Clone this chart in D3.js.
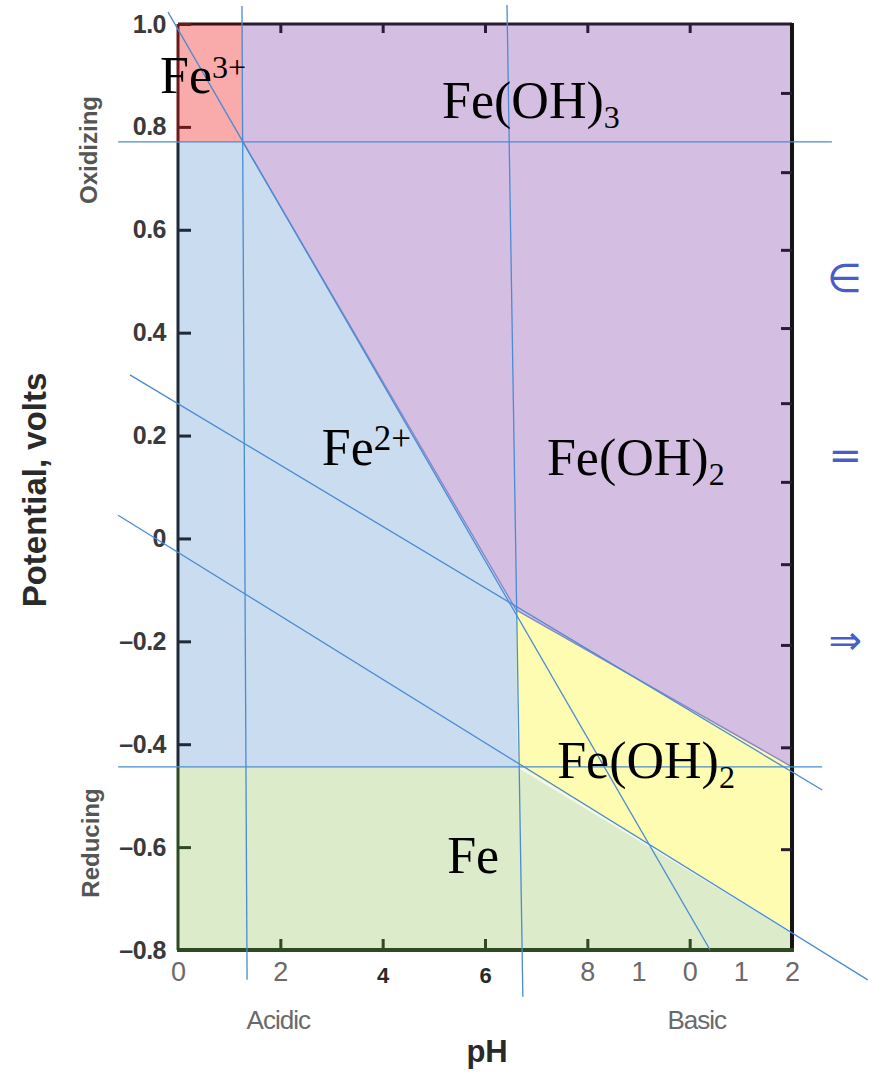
<!DOCTYPE html>
<html>
<head>
<meta charset="utf-8">
<script src="https://cdn.jsdelivr.net/npm/d3@7"></script>
<style>
  html, body { margin: 0; padding: 0; background: #ffffff; }
  svg { display: block; }
</style>
</head>
<body>
<svg id="chart" width="869" height="1072"></svg>
<script>
// ---------- data ----------
// Stability regions (pH, potential V)
const regionNames = ["Fe3+", "Fe(OH)3/Fe(OH)2", "Fe2+", "Fe(OH)2", "Fe"];
const regionColors = ["#f9abab", "#d4bfe3", "#cadcef", "#fdfcb0", "#dcebc9"];
const regionPolygons = [
  [[0, 1.0], [1.27, 1.0], [1.27, 0.77], [0, 0.77]],
  [[1.27, 1.0], [12, 1.0], [12, -0.444], [6.61, -0.139], [1.27, 0.77]],
  [[0, 0.77], [1.27, 0.77], [6.61, -0.139], [6.65, -0.444], [0, -0.444]],
  [[6.61, -0.139], [12, -0.444], [12, -0.765], [6.65, -0.444]],
  [[0, -0.444], [6.65, -0.444], [12, -0.765], [12, -0.8], [0, -0.8]]
];
// Overlaid boundary lines (pH, V) start -> end
const guideLines = [
  [[-1.17, 0.771], [12.78, 0.771]],
  [[-1.17, -0.444], [12.59, -0.444]],
  [[1.25, 1.035], [1.35, -0.858]],
  [[6.43, 1.037], [6.74, -0.891]],
  [[-0.195, 1.023], [10.40, -0.800]],
  [[-0.94, 0.318], [12.59, -0.489]],
  [[-1.17, 0.045], [13.48, -0.858]]
];
// Species labels: main text, script text, script type, anchor (pH, V)
const labelMain = ["Fe", "Fe(OH)", "Fe", "Fe(OH)", "Fe(OH)", "Fe"];
const labelScript = ["3+", "3", "2+", "2", "2", ""];
const labelScriptType = ["sup", "sub", "sup", "sub", "sub", "none"];
const labelScriptSize = [32, 32, 35, 32, 32, 32];
const labelPos = [[-0.35, 0.866], [5.16, 0.817], [2.81, 0.143], [7.21, 0.123], [7.41, -0.466], [5.26, -0.650]];

// Axes
const yTickValues = [1.0, 0.8, 0.6, 0.4, 0.2, 0, -0.2, -0.4, -0.6, -0.8];
const yTickLabels = ["1.0", "0.8", "0.6", "0.4", "0.2", "0", "\u20130.2", "\u20130.4", "\u20130.6", "\u20130.8"];
const xTickValues = [2, 4, 6, 8, 10];
const xLabelValues = [0, 2, 4, 6, 8, 9, 10, 11, 12];
const xLabelTexts = ["0", "2", "4", "6", "8", "1", "0", "1", "2"];
const xLabelBold = [false, false, true, true, false, false, false, false, false];
const rightTickValues = [0.866, 0.712, 0.561, 0.409, 0.263, 0.11, -0.05, -0.207, -0.406, -0.604];
const topTickValues = [2, 4, 6, 8, 10];

// Handwritten margin notes
const noteTexts = ["\u2208", "=", "\u21D2"];
const noteY = [0.48, 0.135, -0.225];

// ---------- drawing ----------
const svg = d3.select("#chart");
const x = d3.scaleLinear().domain([0, 12]).range([178, 792]);
const y = d3.scaleLinear().domain([-0.8, 1.0]).range([950, 24]);

const line = d3.line().x(d => x(d[0])).y(d => y(d[1]));

// regions
svg.append("g").selectAll("path")
  .data(regionPolygons)
  .join("path")
  .attr("d", d => line(d) + "Z")
  .attr("fill", (d, i) => regionColors[i])
  .attr("stroke", (d, i) => regionColors[i])
  .attr("stroke-width", 0.6);

// faint region edges
svg.append("path")
  .attr("d", line([[1.27, 0.77], [6.61, -0.139], [12, -0.444]]))
  .attr("fill", "none").attr("stroke", "#8a86c8").attr("stroke-width", 1.4);
svg.append("path")
  .attr("d", line([[6.65, -0.444], [12, -0.765]]))
  .attr("fill", "none").attr("stroke", "#f4f8ee").attr("stroke-width", 2);

// frame
const frame = svg.append("g");
frame.append("line").attr("x1", x(0)).attr("x2", x(1.27)).attr("y1", y(1)).attr("y2", y(1))
  .attr("stroke", "#3a1010").attr("stroke-width", 3);
frame.append("line").attr("x1", x(1.27)).attr("x2", x(12)).attr("y1", y(1)).attr("y2", y(1))
  .attr("stroke", "#2a1c36").attr("stroke-width", 3);
frame.append("line").attr("x1", x(0)).attr("x2", x(0)).attr("y1", y(1)).attr("y2", y(0.77))
  .attr("stroke", "#6a1a1a").attr("stroke-width", 3);
frame.append("line").attr("x1", x(0)).attr("x2", x(0)).attr("y1", y(0.77)).attr("y2", y(-0.444))
  .attr("stroke", "#1e2a38").attr("stroke-width", 3);
frame.append("line").attr("x1", x(0)).attr("x2", x(0)).attr("y1", y(-0.444)).attr("y2", y(-0.8))
  .attr("stroke", "#2f4a22").attr("stroke-width", 3);
frame.append("line").attr("x1", x(12)).attr("x2", x(12)).attr("y1", y(1) - 1).attr("y2", y(-0.8) + 2)
  .attr("stroke", "#141414").attr("stroke-width", 4);
frame.append("line").attr("x1", x(0) - 1).attr("x2", x(12) + 2).attr("y1", y(-0.8)).attr("y2", y(-0.8))
  .attr("stroke", "#2f4a22").attr("stroke-width", 4);

const sans = "Liberation Sans, Arial, sans-serif";

// left axis (inner ticks)
const yAxis = d3.axisLeft(y).tickValues(yTickValues)
  .tickFormat((d, i) => yTickLabels[i]).tickSizeInner(-13).tickSizeOuter(0).tickPadding(12);
const gy = svg.append("g").attr("transform", `translate(${x(0)},0)`).call(yAxis);
gy.select(".domain").remove();
gy.selectAll(".tick line").attr("stroke", (d) => d > 0.77 ? "#6a1a1a" : (d < -0.444 ? "#2f4a22" : "#1e2a38")).attr("stroke-width", 3);
gy.selectAll(".tick text")
  .attr("font-family", sans)
  .attr("font-weight", "bold").attr("font-size", 25).attr("fill", "#3a3a3a")
  .attr("letter-spacing", -0.5);

// bottom ticks
const xAxisTicks = d3.axisBottom(x).tickValues(xTickValues).tickFormat("").tickSizeInner(-11).tickSizeOuter(0);
const gxt = svg.append("g").attr("transform", `translate(0,${y(-0.8)})`).call(xAxisTicks);
gxt.select(".domain").remove();
gxt.selectAll(".tick line").attr("stroke", "#2f4a22").attr("stroke-width", 3);

// top ticks
const topAxis = d3.axisTop(x).tickValues(topTickValues).tickFormat("").tickSizeInner(-9).tickSizeOuter(0);
const gtop = svg.append("g").attr("transform", `translate(0,${y(1)})`).call(topAxis);
gtop.select(".domain").remove();
gtop.selectAll(".tick line").attr("stroke", "#2a1c36").attr("stroke-width", 3);

// right ticks
const rightAxis = d3.axisRight(y).tickValues(rightTickValues).tickFormat("").tickSizeInner(-11).tickSizeOuter(0);
const gr = svg.append("g").attr("transform", `translate(${x(12)},0)`).call(rightAxis);
gr.select(".domain").remove();
gr.selectAll(".tick line").attr("stroke", "#2a1c36").attr("stroke-width", 3);

// bottom tick labels
const xLabAxis = d3.axisBottom(x).tickValues(xLabelValues)
  .tickFormat((d, i) => xLabelTexts[i]).tickSize(0).tickPadding(12);
const gxl = svg.append("g").attr("transform", `translate(0,${y(-0.8)})`).call(xLabAxis);
gxl.select(".domain").remove();
gxl.selectAll(".tick text")
  .attr("font-family", sans)
  .attr("font-size", (d, i) => xLabelBold[i] ? 22 : 27)
  .attr("font-weight", (d, i) => xLabelBold[i] ? "bold" : "normal")
  .attr("fill", (d, i) => xLabelBold[i] ? "#2a2a2a" : "#6a6a6a")
  .attr("dy", (d, i) => xLabelBold[i] ? "0.95em" : "0.71em");

// guide lines
svg.append("g").selectAll("path")
  .data(guideLines)
  .join("path")
  .attr("d", d => line(d))
  .attr("fill", "none")
  .attr("stroke", "#4a8bd2")
  .attr("stroke-width", 1.3);

// species labels
const lab = svg.append("g").selectAll("text")
  .data(labelMain)
  .join("text")
  .attr("x", (d, i) => x(labelPos[i][0]))
  .attr("y", (d, i) => y(labelPos[i][1]))
  .attr("font-family", "Liberation Serif, Times New Roman, serif")
  .attr("font-size", 52)
  .attr("fill", "#000");
lab.append("tspan").text(d => d);
lab.append("tspan")
  .attr("font-size", (d, i) => labelScriptSize[i])
  .attr("dy", (d, i) => labelScriptType[i] === "sup" ? -15 : (labelScriptType[i] === "sub" ? 10 : 0))
  .text((d, i) => labelScript[i]);

// axis titles
svg.append("text")
  .attr("transform", `translate(46,490) rotate(-90)`)
  .attr("text-anchor", "middle")
  .attr("font-family", sans).attr("font-weight", "bold").attr("font-size", 33)
  .attr("fill", "#2a2a2a").text("Potential, volts");
svg.append("text")
  .attr("transform", `translate(97,150) rotate(-90)`)
  .attr("text-anchor", "middle")
  .attr("font-family", sans).attr("font-weight", "bold").attr("font-size", 24)
  .attr("fill", "#555").text("Oxidizing");
svg.append("text")
  .attr("transform", `translate(99,843) rotate(-90)`)
  .attr("text-anchor", "middle")
  .attr("font-family", sans).attr("font-weight", "bold").attr("font-size", 24)
  .attr("fill", "#555").text("Reducing");
svg.append("text")
  .attr("x", x(1.96)).attr("y", 1029)
  .attr("text-anchor", "middle")
  .attr("font-family", sans).attr("font-size", 26).attr("letter-spacing", -1)
  .attr("fill", "#6a6a6a").text("Acidic");
svg.append("text")
  .attr("x", x(10.14)).attr("y", 1029)
  .attr("text-anchor", "middle")
  .attr("font-family", sans).attr("font-size", 26).attr("letter-spacing", -1)
  .attr("fill", "#6a6a6a").text("Basic");
svg.append("text")
  .attr("x", x(6.04)).attr("y", 1062)
  .attr("text-anchor", "middle")
  .attr("font-family", sans).attr("font-weight", "bold").attr("font-size", 31)
  .attr("fill", "#2a2a2a").text("pH");

// handwritten notes
svg.append("g").selectAll("text")
  .data(noteTexts)
  .join("text")
  .attr("x", 862)
  .attr("y", (d, i) => y(noteY[i]))
  .attr("text-anchor", "end")
  .attr("font-family", "DejaVu Sans, sans-serif")
  .attr("font-size", 40)
  .attr("fill", "#4a5cc8")
  .text(d => d);
</script>
</body>
</html>
